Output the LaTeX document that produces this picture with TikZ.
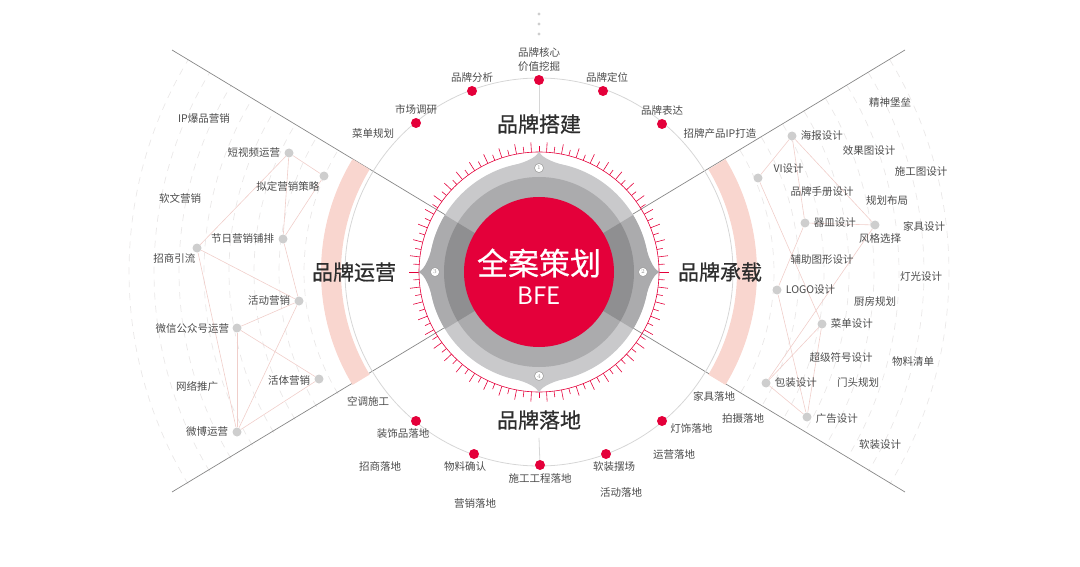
\documentclass[tikz,border=0pt]{standalone}
\usepackage{fontspec}
\newfontfamily\cjk{Noto Sans CJK SC}
\newfontfamily\cjkmed[FakeBold=0.6]{Noto Sans CJK SC}
\usetikzlibrary{positioning}

\definecolor{bfe_red}{RGB}{228,0,58}
\definecolor{label_gray}{RGB}{75,75,75}
\definecolor{title_gray}{RGB}{45,45,45}
\definecolor{dot_gray}{RGB}{206,206,206}
\definecolor{net_pink}{RGB}{240,206,202}
\definecolor{dash_gray}{RGB}{234,232,232}
\definecolor{band_pink}{RGB}{249,214,207}
\definecolor{ring_light}{RGB}{201,201,203}
\definecolor{ring_mid}{RGB}{171,171,173}
\definecolor{ring_dark}{RGB}{143,143,145}
\definecolor{line_gray}{RGB}{135,135,135}
\definecolor{arc_gray}{RGB}{214,214,214}
\definecolor{mark_gray}{RGB}{150,150,150}

\begin{document}
\begin{tikzpicture}[
    x=1pt, y=-1pt,            % 画像のピクセル座標をそのまま使う
    small_label/.style={text=label_gray, inner sep=1pt,
        font=\cjk\fontsize{10.5}{14}\selectfont},
    big_label/.style={text=title_gray, inner sep=0pt,
        font=\cjkmed\fontsize{21}{24}\selectfont},
    red_dot/.style={circle, fill=bfe_red, minimum size=10pt, inner sep=0pt},
    gray_dot/.style={circle, fill=dot_gray, minimum size=9pt, inner sep=0pt},
    net_line/.style={draw=net_pink, line width=0.6pt},
    dash_arc/.style={draw=dash_gray, line width=0.7pt, dash pattern=on 7pt off 6pt},
    diag_line/.style={draw=line_gray, line width=0.7pt},
    big_arc/.style={draw=arc_gray, line width=0.8pt},
    num_mark/.style={circle, draw=mark_gray, fill=white, line width=0.5pt,
        minimum size=9pt, inner sep=0pt, text=mark_gray,
        font=\fontsize{6}{6}\selectfont}
]
    \useasboundingbox (0,0) rectangle (1080,567);
    \coordinate (c) at (539,272);

    % --- 1. 背景の破線円弧 ---
    \begin{scope}[shift={(c)}]
        \foreach \r in {235,260,...,410} {
            \draw[dash_arc] (148.8:\r) arc[start angle=148.8, end angle=211.2, radius=\r];
            \draw[dash_arc] (-31.2:\r) arc[start angle=-31.2, end angle=31.2, radius=\r];
        }
    \end{scope}

    % --- 2. 斜めの区切り線 ---
    \coordinate (d_tl) at (172,50);
    \coordinate (d_br) at (905,492);
    \coordinate (d_bl) at (172,492);
    \coordinate (d_tr) at (905,50);
    \draw[diag_line] (d_tl) -- (d_br);
    \draw[diag_line] (d_bl) -- (d_tr);

    % --- 3. 大円とピンクの帯 ---
    \draw[big_arc] (c) circle[radius=194];
    \begin{scope}[shift={(c)}]
        \fill[band_pink] (148.8:198) arc[start angle=148.8, end angle=211.2, radius=198]
            -- (211.2:218) arc[start angle=211.2, end angle=148.8, radius=218] -- cycle;
        \fill[band_pink] (-31.2:198) arc[start angle=-31.2, end angle=31.2, radius=198]
            -- (31.2:218) arc[start angle=31.2, end angle=-31.2, radius=218] -- cycle;
    \end{scope}
    \foreach \y in {14,24,34}
        \fill[dot_gray] (539,\y) circle[radius=1.6];

    % --- 4. 左側：品牌运营のネットワーク ---
    \node[gray_dot] (l_dsp) at (289,153) {};
    \node[gray_dot] (l_nd)  at (324,176) {};
    \node[gray_dot] (l_jr)  at (283,239) {};
    \node[gray_dot] (l_zs)  at (197,248) {};
    \node[gray_dot] (l_hd)  at (299,301) {};
    \node[gray_dot] (l_wx)  at (237,328) {};
    \node[gray_dot] (l_ht)  at (319,379) {};
    \node[gray_dot] (l_wb)  at (237,432) {};
    \foreach \a/\b in {l_dsp/l_nd, l_dsp/l_jr, l_dsp/l_zs, l_nd/l_jr, l_jr/l_hd,
                       l_zs/l_hd, l_zs/l_wb, l_hd/l_wx, l_hd/l_wb, l_wx/l_ht,
                       l_wx/l_wb, l_ht/l_wb}
        \draw[net_line] (\a) -- (\b);

    \node[small_label, left=3pt of l_dsp] (l_dsp_t) {短视频运营};
    \node[small_label, below left=1pt and 0pt of l_nd] (l_nd_t) {拟定营销策略};
    \node[small_label, left=3pt of l_jr] (l_jr_t) {节日营销铺排};
    \node[small_label, below left=1pt and -3pt of l_zs] (l_zs_t) {招商引流};
    \node[small_label, left=3pt of l_hd] (l_hd_t) {活动营销};
    \node[small_label, left=2pt of l_wx] (l_wx_t) {微信公众号运营};
    \node[small_label, left=3pt of l_ht, yshift=-2pt] (l_ht_t) {活体营销};
    \node[small_label, left=3pt of l_wb] (l_wb_t) {微博运营};
    \node[small_label] (l_ip) at (204,119) {IP爆品营销};
    \node[small_label] (l_rw) at (180,198) {软文营销};
    \node[small_label] (l_wl) at (197,386) {网络推广};

    % --- 5. 右側：品牌承载のネットワーク ---
    \node[gray_dot] (r_hb)   at (792,136) {};
    \node[gray_dot] (r_vi)   at (758,178) {};
    \node[gray_dot] (r_qm)   at (805,223) {};
    \node[gray_dot] (r_fg)   at (875,225) {};
    \node[gray_dot] (r_logo) at (777,290) {};
    \node[gray_dot] (r_cd)   at (822,324) {};
    \node[gray_dot] (r_bz)   at (766,383) {};
    \node[gray_dot] (r_gg)   at (807,417) {};
    \foreach \a/\b in {r_hb/r_vi, r_hb/r_qm, r_hb/r_fg, r_vi/r_cd, r_qm/r_fg,
                       r_qm/r_logo, r_fg/r_bz, r_logo/r_gg, r_cd/r_gg, r_cd/r_bz,
                       r_bz/r_gg}
        \draw[net_line] (\a) -- (\b);

    \node[small_label, right=3pt of r_hb] (r_hb_t) {海报设计};
    \node[small_label, above right=0pt and 11pt of r_vi] (r_vi_t) {VI设计};
    \node[small_label, right=3pt of r_qm] (r_qm_t) {器皿设计};
    \node[small_label, below=3pt of r_fg, xshift=5pt] (r_fg_t) {风格选择};
    \node[small_label, right=3pt of r_logo] (r_logo_t) {LOGO设计};
    \node[small_label, right=3pt of r_cd] (r_cd_t) {菜单设计};
    \node[small_label, right=3pt of r_bz] (r_bz_t) {包装设计};
    \node[small_label, right=3pt of r_gg, yshift=-2pt] (r_gg_t) {广告设计};
    \node[small_label] (r_jsbl) at (890,102) {精神堡垒};
    \node[small_label] (r_xgt)  at (869,151) {效果图设计};
    \node[small_label] (r_sgt)  at (921,172) {施工图设计};
    \node[small_label] (r_ppsc) at (822,192) {品牌手册设计};
    \node[small_label] (r_ghbj) at (887,201) {规划布局};
    \node[small_label] (r_jjsj) at (924,226) {家具设计};
    \node[small_label] (r_fztx) at (822,260) {辅助图形设计};
    \node[small_label] (r_dgsj) at (921,277) {灯光设计};
    \node[small_label] (r_cfgh) at (875,301) {厨房规划};
    \node[small_label] (r_cjfh) at (841,358) {超级符号设计};
    \node[small_label] (r_wlqd) at (913,362) {物料清单};
    \node[small_label] (r_mtgh) at (858,383) {门头规划};
    \node[small_label] (r_rzsj) at (880,445) {软装设计};

    % --- 6. 中央のコンパス ---
    \begin{scope}[shift={(c)}]
        \draw[bfe_red, line width=0.6pt] (0,0) circle[radius=120];
        \foreach \a in {0,7.2,...,356}
            \draw[bfe_red, line width=0.6pt] (\a:120) -- (\a:130);
        \foreach \a in {3.6,10.8,...,359}
            \draw[bfe_red, line width=0.6pt] (\a:120) -- (\a:126);

        % 上下は明るいグレー、左右は濃いグレー
        \fill[ring_light] (0,0) circle[radius=110];
        \fill[ring_mid] (0,0) circle[radius=95];
        \fill[ring_mid] (0,0) -- (-31.2:110) arc[start angle=-31.2, end angle=31.2, radius=110] -- cycle;
        \fill[ring_mid] (0,0) -- (148.8:110) arc[start angle=148.8, end angle=211.2, radius=110] -- cycle;
        \fill[ring_dark] (0,0) -- (-31.2:95) arc[start angle=-31.2, end angle=31.2, radius=95] -- cycle;
        \fill[ring_dark] (0,0) -- (148.8:95) arc[start angle=148.8, end angle=211.2, radius=95] -- cycle;
        \foreach \a/\col in {90/ring_light, 270/ring_light, 0/ring_mid, 180/ring_mid}
            \fill[\col] (\a-16:109) .. controls (\a-8:111) and (\a-1.5:113) .. (\a:121)
                .. controls (\a+1.5:113) and (\a+8:111) .. (\a+16:109) -- cycle;
        \fill[bfe_red] (0,0) circle[radius=75];

        \node[num_mark] (n_1) at (0,-104) {1};
        \node[num_mark] (n_2) at (104,0) {2};
        \node[num_mark] (n_3) at (-104,0) {3};
        \node[num_mark] (n_4) at (0,104) {4};

        \node[text=white, font=\cjkmed\fontsize{31}{34}\selectfont] (main_t) at (0,-9) {全案策划};
        \node[text=white, font=\cjk\fontsize{24}{26}\selectfont] (bfe_t) at (0,24) {BFE};
    \end{scope}

    % --- 7. 見出し ---
    \node[big_label] (h_top)    at (539,124) {品牌搭建};
    \node[big_label] (h_bottom) at (539,420) {品牌落地};
    \node[big_label] (h_left)   at (354,272) {品牌运营};
    \node[big_label] (h_right)  at (720,272) {品牌承载};

    % --- 8. 上：品牌搭建の赤い点 ---
    \node[red_dot] (t_hx) at (539,80) {};
    \node[red_dot] (t_fx) at (472,91) {};
    \node[red_dot] (t_dw) at (603,91) {};
    \node[red_dot] (t_sc) at (416,123) {};
    \node[red_dot] (t_bd) at (662,124) {};
    \draw[big_arc] (t_hx) -- (h_top.north);
    \node[small_label, above=2pt of t_hx, align=center] (t_hx_t) {品牌核心\\价值挖掘};
    \node[small_label, above=2pt of t_fx] (t_fx_t) {品牌分析};
    \node[small_label, above=2pt of t_dw, xshift=4pt] (t_dw_t) {品牌定位};
    \node[small_label, above=2pt of t_sc] (t_sc_t) {市场调研};
    \node[small_label, above=2pt of t_bd] (t_bd_t) {品牌表达};
    \node[small_label] (t_cd) at (373,134) {菜单规划};
    \node[small_label] (t_ip) at (720,134) {招牌产品IP打造};

    % --- 9. 下：品牌落地の赤い点 ---
    \node[red_dot] (b_zs) at (416,421) {};
    \node[red_dot] (b_wl) at (474,454) {};
    \node[red_dot] (b_sg) at (540,465) {};
    \node[red_dot] (b_rz) at (606,454) {};
    \node[red_dot] (b_ds) at (662,421) {};
    \draw[big_arc] (b_sg) -- ([yshift=-8pt]h_bottom.south);
    \node[small_label, below=1pt of b_zs, xshift=-13pt] (b_zs_t) {装饰品落地};
    \node[small_label, below=1pt of b_wl, xshift=-9pt] (b_wl_t) {物料确认};
    \node[small_label, below=2pt of b_sg] (b_sg_t) {施工工程落地};
    \node[small_label, below=1pt of b_rz, xshift=8pt] (b_rz_t) {软装摆场};
    \node[small_label, right=2pt of b_ds, yshift=-8pt] (b_ds_t) {灯饰落地};
    \node[small_label] (b_kt) at (368,401) {空调施工};
    \node[small_label] (b_zsld) at (380,466) {招商落地};
    \node[small_label] (b_yx) at (475,504) {营销落地};
    \node[small_label] (b_hd) at (621,493) {活动落地};
    \node[small_label] (b_yy) at (674,455) {运营落地};
    \node[small_label] (b_jj) at (714,396) {家具落地};
    \node[small_label] (b_ps) at (743,419) {拍摄落地};

\end{tikzpicture}
\end{document}
